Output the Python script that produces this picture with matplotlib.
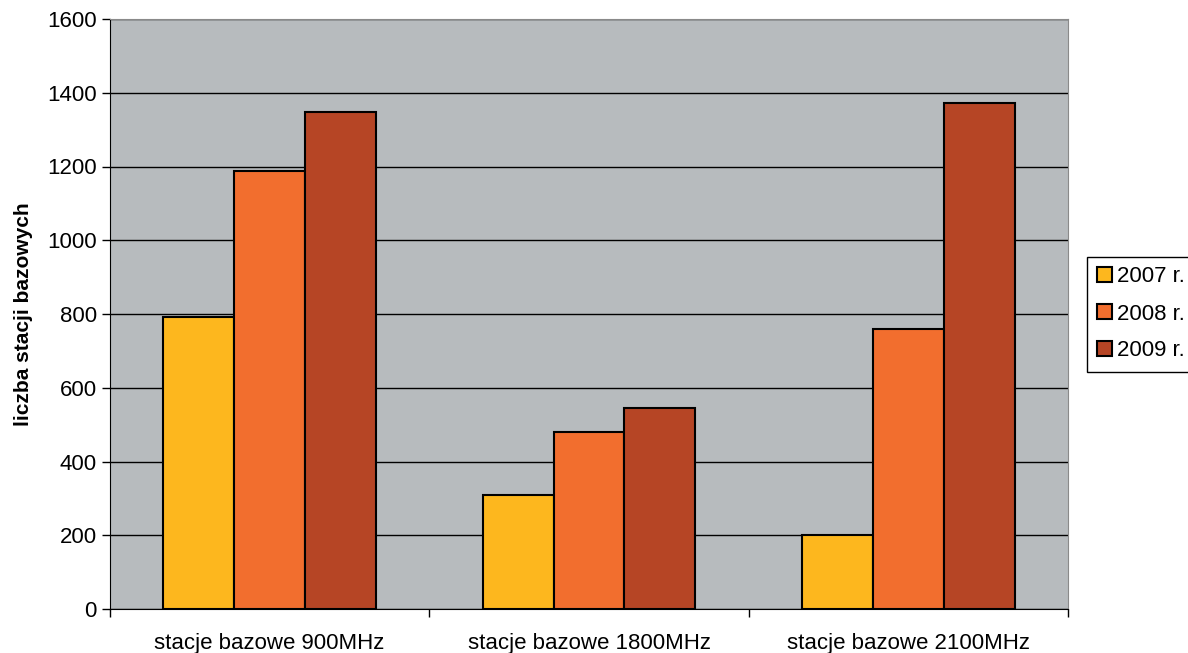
import numpy as np
import matplotlib.pyplot as plt

plt.rcParams['font.family'] = ['Liberation Sans', 'DejaVu Sans']

# liczba stacji bazowych wg pasma i roku
categories = ['stacje bazowe 900MHz', 'stacje bazowe 1800MHz', 'stacje bazowe 2100MHz']
years = ['2007 r.', '2008 r.', '2009 r.']
v2007 = [791, 309, 200]
v2008 = [1189, 480, 759]
v2009 = [1348, 545, 1372]
colors = ['#FDB71E', '#F26E2E', '#B64525']

fig = plt.figure(figsize=(11.88, 6.53), dpi=100)
ax = fig.add_axes([110 / 1188, 44 / 653, 958 / 1188, 590 / 653])
ax.set_facecolor('#B7BBBE')

x = np.arange(len(categories))
w = 0.667 / 3
for i, (vals, lab) in enumerate(zip([v2007, v2008, v2009], years)):
    ax.bar(x + (i - 1) * w, vals, width=w, color=colors[i], edgecolor='black',
           linewidth=1.5, label=lab, zorder=3)

ax.set_xlim(-0.5, len(categories) - 0.5)
ax.set_ylim(0, 1600)
ax.set_yticks(np.arange(0, 1601, 200))
ax.yaxis.grid(True, color='black', linewidth=1, zorder=1)
ax.set_axisbelow(True)

ax.set_xticks(x)
ax.set_xticklabels(categories, fontsize=16)
ax.set_xticks(np.arange(-0.5, len(categories), 1), minor=True)
ax.tick_params(axis='x', which='major', length=0, pad=17)
ax.tick_params(axis='x', which='minor', length=6, width=1, direction='out')
ax.tick_params(axis='y', labelsize=16, length=6, width=1, direction='out')

for s in ['top', 'right']:
    ax.spines[s].set_color('#8a8a8a')
ax.spines['left'].set_color('black')
ax.spines['bottom'].set_color('black')

ax.set_ylabel('liczba stacji bazowych', fontsize=15, fontweight='bold', labelpad=10)

leg = ax.legend(loc='center left', bbox_to_anchor=(1.02, 0.5), fontsize=16,
                frameon=True, fancybox=False, edgecolor='black', framealpha=1,
                handlelength=0.65, handleheight=0.65, handletextpad=0.25,
                borderpad=0.45, labelspacing=0.72, borderaxespad=0)
leg.get_frame().set_linewidth(1)

plt.savefig('out.png', dpi=100)
